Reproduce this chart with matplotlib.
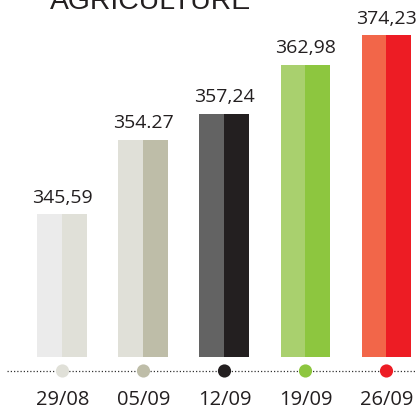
import numpy as np
import matplotlib.pyplot as plt

# data
dates = ['29/08', '05/09', '12/09', '19/09', '26/09']
values = [345.59, 354.27, 357.24, 362.98, 374.23]
value_labels = ['345,59', '354.27', '357,24', '362,98', '374,23']
light_colors = ['#EBEBEB', '#E0E0D8', '#636363', '#A9D06E', '#F26649']
dark_colors = ['#E0E0D8', '#BEBDA8', '#231F20', '#8DC63F', '#ED1C24']

TEXT = '#231F20'
BASE, BRK, K1, K2 = 329.0, 363.0, 8.6, 2.6


def fwd(v):
    v = np.asarray(v, dtype=float)
    return np.where(v <= BRK, (v - BASE) * K1, (BRK - BASE) * K1 + (v - BRK) * K2)


def inv(h):
    h = np.asarray(h, dtype=float)
    hb = (BRK - BASE) * K1
    return np.where(h <= hb, BASE + h / K1, BRK + (h - hb) / K2)


fig = plt.figure(figsize=(4.16, 4.07), dpi=100)
ax = fig.add_axes([0, 0, 1, 1])
ax.set_yscale('function', functions=(fwd, inv))

x = np.arange(len(values))
w = 25 / 81
for i, v in enumerate(values):
    ax.bar(x[i] - w / 2, v - BASE, width=w, bottom=BASE, color=light_colors[i], linewidth=0)
    ax.bar(x[i] + w / 2, v - BASE, width=w, bottom=BASE, color=dark_colors[i], linewidth=0)
    ax.annotate(value_labels[i], (x[i], v), xytext=(0, 8.5), textcoords='offset points',
                ha='center', va='baseline', fontsize=14, color=TEXT, family='Open Sans')

ax.set_xlim(-62.5 / 81, (416 - 62.5) / 81)
ax.set_ylim(float(inv(-50)), float(inv(357)))

tr = ax.get_xaxis_transform()
ax.plot([-55 / 81, 5], [0.0885, 0.0885], transform=tr, color='#333333', lw=0.9,
        dashes=(1, 1.6), zorder=1)
ax.scatter(x, [0.0885] * len(x), transform=tr, s=90, c=dark_colors, linewidths=0, zorder=3)
for i, d in enumerate(dates):
    ax.text(x[i], 0.004, d, transform=tr, ha='center', va='baseline',
            fontsize=14.5, color=TEXT, family='Open Sans')

fig.text(0.363, 1 - 9 / 407, 'AGRICULTURE', ha='center', va='baseline',
         fontsize=20.4, color=TEXT, family='Liberation Sans')

ax.axis('off')
fig.savefig('out.png', dpi=100)
